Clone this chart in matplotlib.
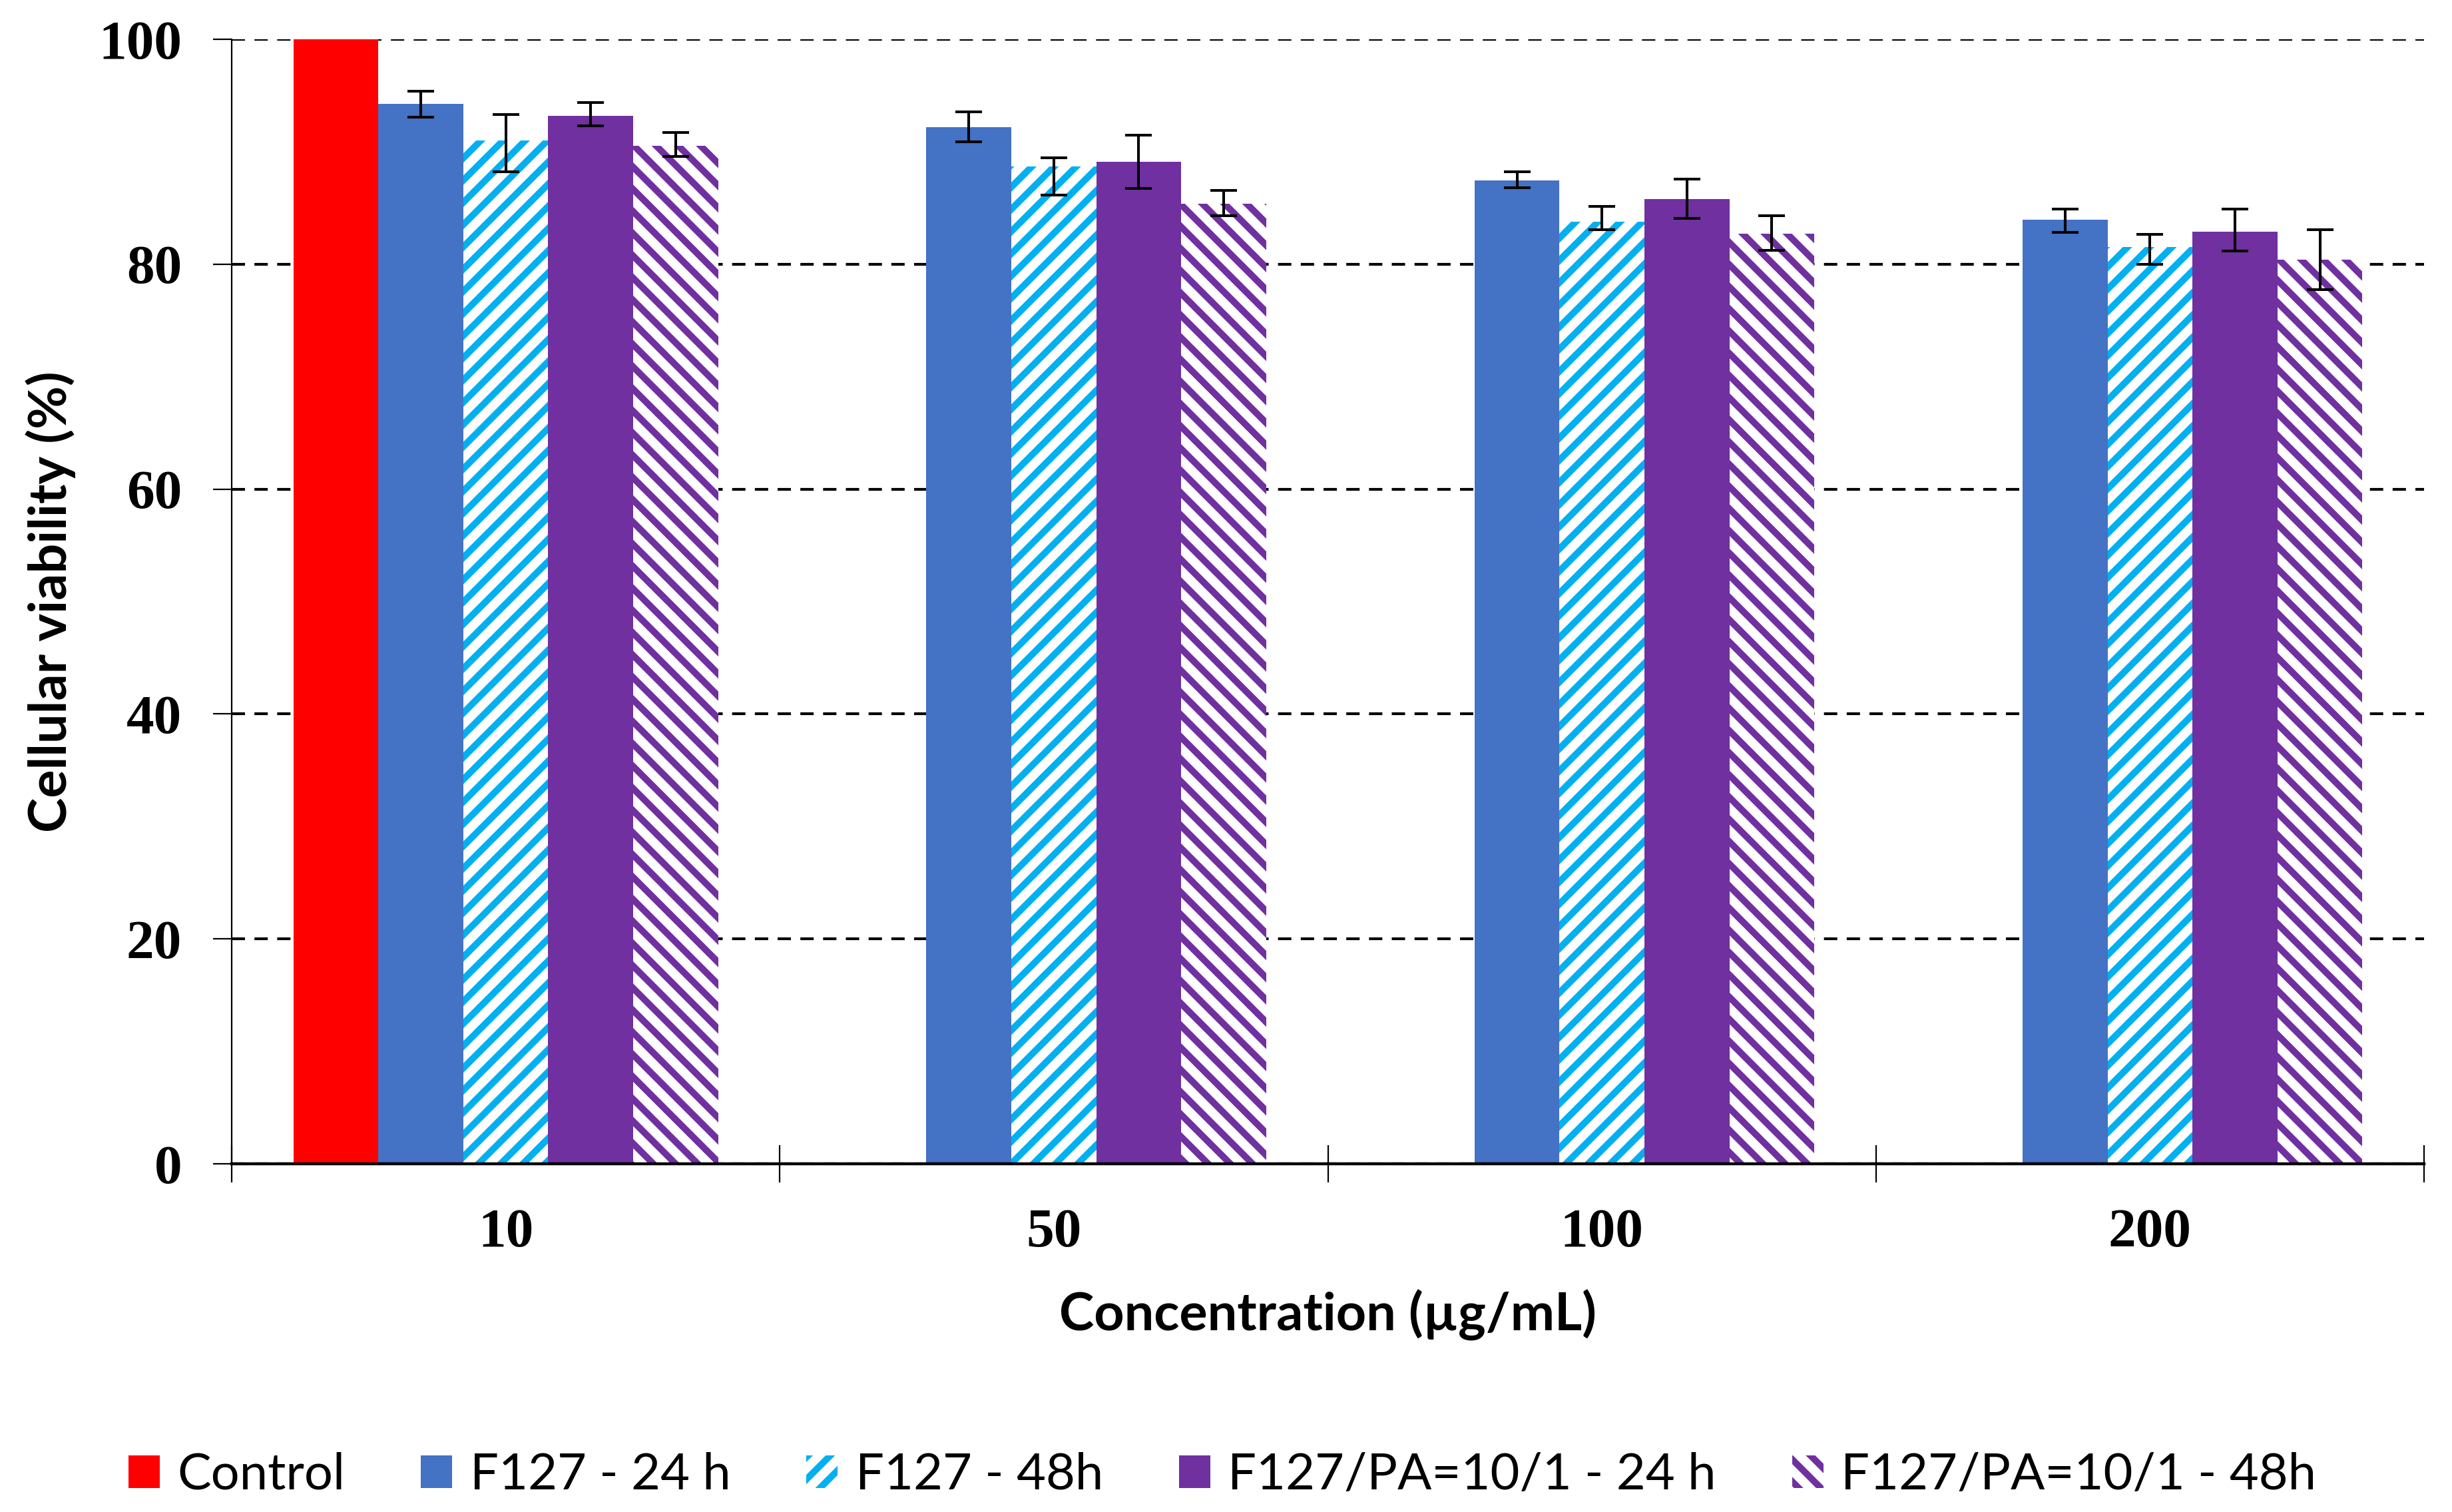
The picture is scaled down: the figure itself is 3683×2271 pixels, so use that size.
import numpy as np
import matplotlib
matplotlib.use("Agg")
import matplotlib.pyplot as plt

# ---------------- data ----------------
categories = ["10", "50", "100", "200"]
series_names = ["Control", "F127 - 24 h", "F127 - 48h",
                "F127/PA=10/1 - 24 h", "F127/PA=10/1 - 48h"]

control = [100.0, 0.0, 0.0, 0.0]

f127_24 = [94.26, 92.2, 87.45, 83.95]
f127_24_lo = [1.16, 1.33, 0.68, 1.10]
f127_24_hi = [1.14, 1.35, 0.75, 0.97]

f127_48 = [91.0, 88.7, 83.75, 81.5]
f127_48_lo = [2.8, 2.57, 0.68, 1.52]
f127_48_hi = [2.3, 0.75, 1.39, 1.15]

pa_24 = [93.2, 89.1, 85.8, 82.9]
pa_24_lo = [0.9, 2.36, 1.7, 1.7]
pa_24_hi = [1.2, 2.38, 1.77, 2.02]

pa_48 = [90.55, 85.4, 82.7, 80.4]
pa_48_lo = [0.95, 1.09, 1.47, 2.66]
pa_48_hi = [1.15, 1.16, 1.6, 2.64]

yticks = [0, 20, 40, 60, 80, 100]

# ---------------- style ----------------
DPI = 200
plt.rcParams["hatch.linewidth"] = 3.6
tick_font = dict(family="Liberation Serif", weight="bold", size=30)
label_font = ["Lato", "DejaVu Sans"]

fig = plt.figure(figsize=(3683 / DPI, 2271 / DPI), dpi=DPI)
ax = fig.add_axes([0.09449, 0.23030, 0.89411, 0.74372])

x = np.arange(len(categories))
w = 0.155

red = "#FF0000"
blue = "#4472C4"
lblue = "#00B0F0"
purple = "#7030A0"

err_kw = dict(ecolor="black", elinewidth=1.45, capsize=7.2, capthick=1.45)

ax.bar(x - 2 * w, control, w, color=red, linewidth=0, label=series_names[0], zorder=2)
ax.bar(x - 1 * w, f127_24, w, color=blue, linewidth=0, label=series_names[1], zorder=2,
       yerr=[f127_24_lo, f127_24_hi], error_kw=err_kw)
ax.bar(x, f127_48, w, facecolor="white", edgecolor=lblue, linewidth=0, hatch="//",
       label=series_names[2], zorder=2, yerr=[f127_48_lo, f127_48_hi], error_kw=err_kw)
ax.bar(x + 1 * w, pa_24, w, color=purple, linewidth=0, label=series_names[3], zorder=2,
       yerr=[pa_24_lo, pa_24_hi], error_kw=err_kw)
ax.bar(x + 2 * w, pa_48, w, facecolor="white", edgecolor=purple, linewidth=0, hatch="\\\\",
       label=series_names[4], zorder=2, yerr=[pa_48_lo, pa_48_hi], error_kw=err_kw)

ax.set_xlim(-0.5, len(categories) - 0.5)
ax.set_ylim(0, 100)

# grid
ax.set_axisbelow(True)
ax.yaxis.grid(True, color="black", linewidth=1.5, linestyle=(0, (4.8, 3.4)))
ax.xaxis.grid(False)

# spines
ax.spines["top"].set_visible(False)
ax.spines["right"].set_visible(False)
ax.spines["left"].set_linewidth(0.8)
ax.spines["bottom"].set_linewidth(1.6)

# y ticks
ax.set_yticks(yticks)
ax.set_yticklabels([str(v) for v in yticks], fontdict=tick_font)
ax.tick_params(axis="y", which="major", direction="out", length=10, width=0.8, pad=17)

# x ticks: major at boundaries (no labels), minor at centers (labels)
ax.set_xticks(np.arange(len(categories) + 1) - 0.5)
ax.set_xticklabels([])
ax.tick_params(axis="x", which="major", direction="inout", length=20, width=0.8)
ax.set_xticks(x, minor=True)
ax.set_xticklabels(categories, minor=True, fontdict=tick_font)
ax.tick_params(axis="x", which="minor", length=0, pad=24)

# axis labels
ax.set_ylabel("Cellular viability (%)", family=label_font, weight="bold", fontsize=28.5)
ax.yaxis.set_label_coords(-0.071, 0.5)
ax.set_xlabel("Concentration (\u00b5g/mL)", family=label_font, weight="bold", fontsize=28.5)
ax.xaxis.set_label_coords(0.5, -0.112)
ax.xaxis.label.set_va("top")

# legend
leg = fig.legend(loc="center", bbox_to_anchor=(0.4985, 0.0245), ncol=5, frameon=False,
                 prop=dict(family=label_font, size=27.3),
                 handlelength=0.62, handleheight=0.62, handletextpad=0.35,
                 columnspacing=1.5)

fig.savefig("out.png", dpi=DPI)
